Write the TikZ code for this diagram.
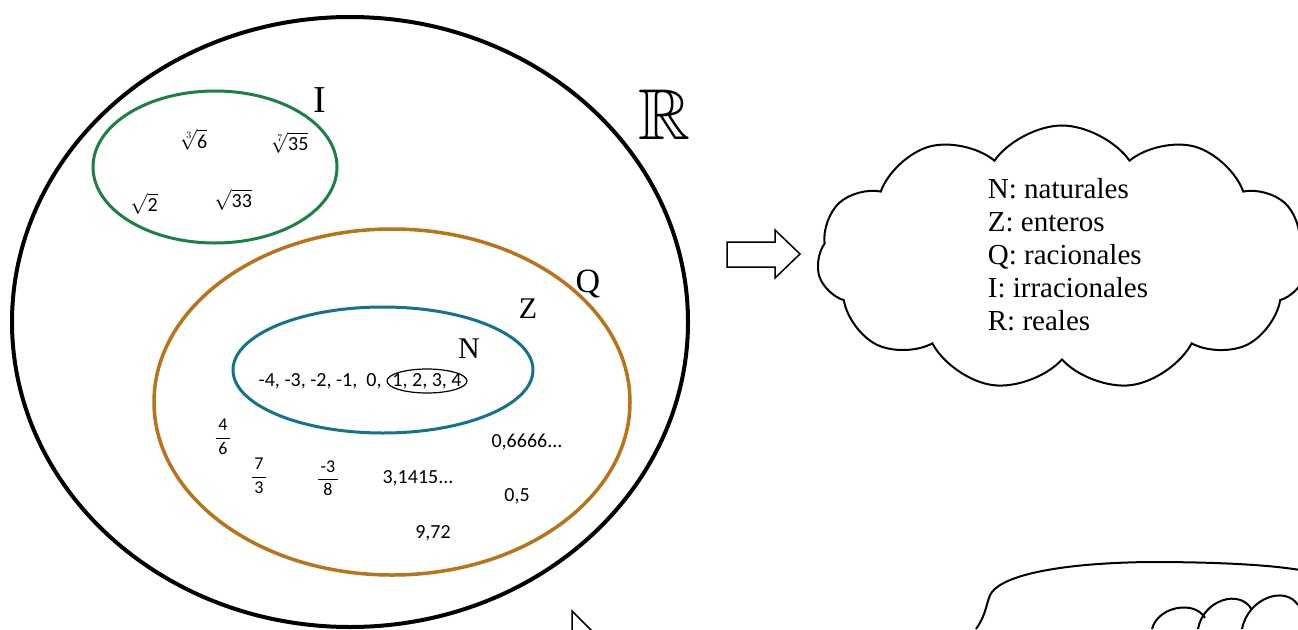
\documentclass[tikz,border=0pt]{standalone}
\usepackage{amssymb}
\usepackage{fontspec}
\setmainfont{Liberation Serif}
\newfontfamily\calib{Carlito}
\usetikzlibrary{shapes.symbols}
\definecolor{setgreen}{RGB}{25,130,65}
\definecolor{setorange}{RGB}{185,115,25}
\definecolor{setteal}{RGB}{20,115,140}
\tikzset{
  num/.style={font=\calib\fontsize{20}{20}\selectfont, inner sep=0pt},
  fracnum/.style={font=\calib\fontsize{18}{18}\selectfont, inner sep=0pt},
  setlabel/.style={font=\fontsize{30}{30}\selectfont, inner sep=0pt},
}
\newcommand{\frc}[2]{$\displaystyle\frac{\,\mbox{#1}\,}{\,\mbox{#2}\,}$}
\newcommand{\rt}[2][]{$\sqrt[#1]{\mbox{#2}}$}
\begin{document}
\begin{tikzpicture}[x=1pt,y=-1pt]
\clip (0,0) rectangle (1298,629);
\fill[white] (0,0) rectangle (1298,629);
% the sets
\draw[line width=4pt] (350,322) ellipse [x radius=338, y radius=305];
\draw[setgreen, line width=3pt] (215,167) ellipse [x radius=122, y radius=76];
\draw[setorange, line width=3.5pt] (392,402) ellipse [x radius=238, y radius=173];
\draw[setteal, line width=3pt] (383,370) ellipse [x radius=150, y radius=63];
\draw[line width=1.2pt] (427,381) ellipse [x radius=40, y radius=12];
% set names
\node[setlabel, font=\fontsize{72}{72}\selectfont] (lblR) at (664,115) {$\mathbb{R}$};
\node[setlabel, font=\fontsize{38}{38}\selectfont] (lblI) at (320,100) {I};
\node[setlabel, font=\fontsize{34}{34}\selectfont] (lblQ) at (588,284) {Q};
\node[setlabel] (lblZ) at (528,309) {Z};
\node[setlabel] (lblN) at (469,349) {N};
% irrationals
\node[num] (cbrt6) at (194,140) {\rt[3]{6}};
\node[num] (rt35) at (290,143) {\rt[7]{35}};
\node[num] (rt2) at (147,204) {\rt{2}};
\node[num] (rt33) at (236,200) {\rt{33}};
% integers and naturals
\node[num] (negs) at (308,381) {-4, -3, -2, -1,};
\node[num] (zero) at (374,381) {0,};
\node[num] (nats) at (427,381) {1, 2, 3, 4};
% rationals
\node[fracnum] (f46) at (223,437) {\frc{4}{6}};
\node[fracnum] (f73) at (259,476) {\frc{7}{3}};
\node[fracnum] (f38) at (328,478) {\frc{-3}{8}};
\node[num] (pi) at (418,478) {3,1415...};
\node[num] (per) at (527,442) {0,6666...};
\node[num] (half) at (517,496) {0,5};
\node[num] (dec) at (433,533) {9,72};
% hollow arrow and legend cloud
\draw[line width=1.5pt] (727,242) -- (775,242) -- (775,230) -- (800,254)
  -- (775,278) -- (775,267) -- (727,267) -- cycle;
\node[cloud, draw, line width=2pt, cloud puffs=11, cloud puff arc=110,
  cloud ignores aspect, minimum width=490pt, minimum height=265pt,
  align=left, inner sep=0pt, font=\fontsize{29}{33}\selectfont]
  (legend) at (1062,258) {};
\node[align=left, inner sep=0pt, font=\fontsize{29}{33}\selectfont]
  (legtext) at (1068,255)
  {N: naturales\\Z: enteros\\Q: racionales\\I: irracionales\\R: reales};
% second arrow and cloud (cut off)
\draw[line width=1.5pt] (572,640) -- (572,611) -- (601,640);
\draw[line width=2pt] (976,629) .. controls (988,612) and (986,600) .. (992,592)
  .. controls (1005,575) and (1060,563) .. (1150,562)
  .. controls (1220,562) and (1270,565) .. (1300,570);
\draw[line width=2pt] (1152,629) .. controls (1158,606) and (1195,600) .. (1205,618);
\draw[line width=2pt] (1198,629) .. controls (1203,600) and (1240,588) .. (1252,610);
\draw[line width=2pt] (1242,629) .. controls (1248,598) and (1285,585) .. (1298,605);
\end{tikzpicture}
\end{document}
